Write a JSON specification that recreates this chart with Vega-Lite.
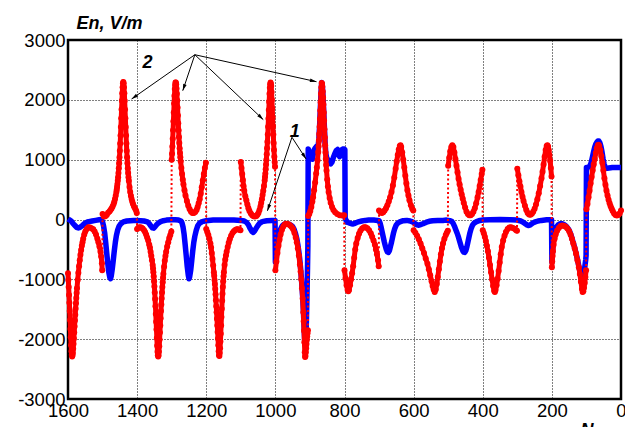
{
"$schema":"https://vega.github.io/schema/vega-lite/v6.json",
"width":553,"height":359,
"autosize":{"type":"none"},
"padding":{"left":68,"top":40,"right":4,"bottom":28},
"background":"white",
"config":{"view":{"stroke":"#000","strokeWidth":2.5},"font":"Liberation Sans",
"axis":{"labelFont":"Liberation Sans","labelFontSize":18.5,"labelColor":"#000","grid":true,"gridColor":"#000","gridDash":[1,2],"gridWidth":1,"gridOpacity":1,"domain":false,"ticks":false,"labelFlush":false,"labelOverlap":false,"titleFont":"Liberation Sans","titleFontSize":18,"titleFontWeight":"bold","titleFontStyle":"italic","titleColor":"#000","titleAngle":0,"titleAlign":"left","titleBaseline":"alphabetic"}},
"datasets":{
"red":[
{"n":1600,"e":-900,"s":1},{"n":1599,"e":-1010,"s":1},{"n":1598,"e":-1130,"s":1},{"n":1597,"e":-1260,"s":1},{"n":1596,"e":-1390,"s":1},{"n":1595,"e":-1530,"s":1},{"n":1594,"e":-1680,"s":1},{"n":1593,"e":-1830,"s":1},{"n":1592,"e":-1970,"s":1},{"n":1591,"e":-2100,"s":1},{"n":1590,"e":-2200,"s":1},{"n":1589,"e":-2260,"s":1},{"n":1588,"e":-2290,"s":1},{"n":1587,"e":-2270,"s":1},{"n":1586,"e":-2230,"s":1},{"n":1585,"e":-2160,"s":1},{"n":1584,"e":-2080,"s":1},{"n":1583,"e":-1990,"s":1},{"n":1582,"e":-1890,"s":1},{"n":1581,"e":-1790,"s":1},{"n":1580,"e":-1690,"s":1},{"n":1579,"e":-1590,"s":1},{"n":1578,"e":-1490,"s":1},{"n":1577,"e":-1400,"s":1},{"n":1576,"e":-1310,"s":1},{"n":1575,"e":-1230,"s":1},{"n":1574,"e":-1150,"s":1},{"n":1572,"e":-1010,"s":1},{"n":1570,"e":-890,"s":1},{"n":1568,"e":-780,"s":1},{"n":1566,"e":-680,"s":1},{"n":1564,"e":-590,"s":1},{"n":1562,"e":-510,"s":1},{"n":1560,"e":-440,"s":1},{"n":1558,"e":-380,"s":1},{"n":1556,"e":-320,"s":1},{"n":1553,"e":-250,"s":1},{"n":1550,"e":-200,"s":1},{"n":1546,"e":-160,"s":1},{"n":1541,"e":-130,"s":1},{"n":1536,"e":-135,"s":1},{"n":1531,"e":-150,"s":1},{"n":1527,"e":-165,"s":1},{"n":1523,"e":-200,"s":1},{"n":1519,"e":-250,"s":1},{"n":1515,"e":-320,"s":1},{"n":1512,"e":-380,"s":1},{"n":1509,"e":-450,"s":1},{"n":1506,"e":-540,"s":1},{"n":1504,"e":-620,"s":1},{"n":1502,"e":-730,"s":1},{"n":1501,"e":-850,"s":1},
{"n":1500,"e":90,"s":2},{"n":1496,"e":50,"s":2},{"n":1492,"e":55,"s":2},{"n":1488,"e":75,"s":2},{"n":1484,"e":113,"s":2},{"n":1480,"e":135,"s":2},{"n":1477,"e":158,"s":2},{"n":1474,"e":183,"s":2},{"n":1471,"e":217,"s":2},{"n":1468,"e":261,"s":2},{"n":1466,"e":298,"s":2},{"n":1464,"e":342,"s":2},{"n":1462,"e":396,"s":2},{"n":1460,"e":460,"s":2},{"n":1459,"e":499,"s":2},{"n":1458,"e":542,"s":2},{"n":1457,"e":594,"s":2},{"n":1456,"e":647,"s":2},{"n":1455,"e":708,"s":2},{"n":1454,"e":778,"s":2},{"n":1453,"e":855,"s":2},{"n":1452,"e":940,"s":2},{"n":1451,"e":1039,"s":2},{"n":1450,"e":1150,"s":2},{"n":1449,"e":1270,"s":2},{"n":1448,"e":1402,"s":2},{"n":1447,"e":1544,"s":2},{"n":1446,"e":1691,"s":2},{"n":1445,"e":1840,"s":2},{"n":1444,"e":1983,"s":2},{"n":1443,"e":2110,"s":2},{"n":1442,"e":2212,"s":2},{"n":1441,"e":2277,"s":2},{"n":1440,"e":2300,"s":2},{"n":1439,"e":2277,"s":2},{"n":1438,"e":2212,"s":2},{"n":1437,"e":2110,"s":2},{"n":1436,"e":1983,"s":2},{"n":1435,"e":1840,"s":2},{"n":1434,"e":1691,"s":2},{"n":1433,"e":1544,"s":2},{"n":1432,"e":1402,"s":2},{"n":1431,"e":1270,"s":2},{"n":1430,"e":1150,"s":2},{"n":1429,"e":1039,"s":2},{"n":1428,"e":940,"s":2},{"n":1427,"e":855,"s":2},{"n":1426,"e":778,"s":2},{"n":1425,"e":708,"s":2},{"n":1424,"e":647,"s":2},{"n":1422,"e":542,"s":2},{"n":1420,"e":460,"s":2},{"n":1418,"e":396,"s":2},{"n":1416,"e":342,"s":2},{"n":1414,"e":298,"s":2},{"n":1412,"e":261,"s":2},{"n":1409,"e":217,"s":2},{"n":1406,"e":183,"s":2},{"n":1403,"e":150,"s":2},{"n":1401,"e":110,"s":2},
{"n":1400,"e":-160,"s":3},{"n":1396,"e":-135,"s":3},{"n":1392,"e":-128,"s":3},{"n":1388,"e":-135,"s":3},{"n":1384,"e":-150,"s":3},{"n":1380,"e":-180,"s":3},{"n":1377,"e":-210,"s":3},{"n":1374,"e":-250,"s":3},{"n":1371,"e":-300,"s":3},{"n":1368,"e":-350,"s":3},{"n":1365,"e":-420,"s":3},{"n":1363,"e":-470,"s":3},{"n":1361,"e":-540,"s":3},{"n":1359,"e":-610,"s":3},{"n":1357,"e":-680,"s":3},{"n":1355,"e":-760,"s":3},{"n":1354,"e":-820,"s":3},{"n":1353,"e":-880,"s":3},{"n":1352,"e":-950,"s":3},{"n":1351,"e":-1030,"s":3},{"n":1350,"e":-1120,"s":3},{"n":1349,"e":-1220,"s":3},{"n":1348,"e":-1330,"s":3},{"n":1347,"e":-1450,"s":3},{"n":1346,"e":-1580,"s":3},{"n":1345,"e":-1710,"s":3},{"n":1344,"e":-1840,"s":3},{"n":1343,"e":-1980,"s":3},{"n":1342,"e":-2110,"s":3},{"n":1341,"e":-2210,"s":3},{"n":1340,"e":-2270,"s":3},{"n":1339,"e":-2290,"s":3},{"n":1338,"e":-2270,"s":3},{"n":1337,"e":-2210,"s":3},{"n":1336,"e":-2120,"s":3},{"n":1335,"e":-2010,"s":3},{"n":1334,"e":-1890,"s":3},{"n":1333,"e":-1770,"s":3},{"n":1332,"e":-1650,"s":3},{"n":1331,"e":-1530,"s":3},{"n":1330,"e":-1420,"s":3},{"n":1329,"e":-1320,"s":3},{"n":1328,"e":-1220,"s":3},{"n":1327,"e":-1130,"s":3},{"n":1326,"e":-1050,"s":3},{"n":1325,"e":-975,"s":3},{"n":1324,"e":-905,"s":3},{"n":1322,"e":-790,"s":3},{"n":1320,"e":-690,"s":3},{"n":1318,"e":-610,"s":3},{"n":1316,"e":-540,"s":3},{"n":1313,"e":-450,"s":3},{"n":1310,"e":-380,"s":3},{"n":1307,"e":-310,"s":3},{"n":1304,"e":-260,"s":3},{"n":1301,"e":-200,"s":3},
{"n":1300,"e":1000,"s":4},{"n":1299,"e":1100,"s":4},{"n":1298,"e":1220,"s":4},{"n":1297,"e":1350,"s":4},{"n":1296,"e":1490,"s":4},{"n":1295,"e":1640,"s":4},{"n":1294,"e":1790,"s":4},{"n":1293,"e":1940,"s":4},{"n":1292,"e":2070,"s":4},{"n":1291,"e":2180,"s":4},{"n":1290,"e":2250,"s":4},{"n":1289,"e":2290,"s":4},{"n":1288,"e":2290,"s":4},{"n":1287,"e":2260,"s":4},{"n":1286,"e":2190,"s":4},{"n":1285,"e":2100,"s":4},{"n":1284,"e":1990,"s":4},{"n":1283,"e":1870,"s":4},{"n":1282,"e":1740,"s":4},{"n":1281,"e":1610,"s":4},{"n":1280,"e":1490,"s":4},{"n":1279,"e":1380,"s":4},{"n":1278,"e":1280,"s":4},{"n":1277,"e":1190,"s":4},{"n":1276,"e":1110,"s":4},{"n":1275,"e":1040,"s":4},{"n":1274,"e":975,"s":4},{"n":1272,"e":860,"s":4},{"n":1270,"e":760,"s":4},{"n":1268,"e":670,"s":4},{"n":1266,"e":590,"s":4},{"n":1263,"e":490,"s":4},{"n":1260,"e":400,"s":4},{"n":1256,"e":310,"s":4},{"n":1252,"e":230,"s":4},{"n":1248,"e":170,"s":4},{"n":1244,"e":130,"s":4},{"n":1240,"e":110,"s":4},{"n":1236,"e":110,"s":4},{"n":1232,"e":125,"s":4},{"n":1228,"e":160,"s":4},{"n":1225,"e":210,"s":4},{"n":1222,"e":270,"s":4},{"n":1219,"e":340,"s":4},{"n":1216,"e":430,"s":4},{"n":1213,"e":540,"s":4},{"n":1210,"e":650,"s":4},{"n":1207,"e":760,"s":4},{"n":1204,"e":860,"s":4},{"n":1201,"e":950,"s":4},
{"n":1200,"e":-160,"s":5},{"n":1197,"e":-210,"s":5},{"n":1194,"e":-260,"s":5},{"n":1191,"e":-320,"s":5},{"n":1188,"e":-400,"s":5},{"n":1186,"e":-470,"s":5},{"n":1184,"e":-560,"s":5},{"n":1182,"e":-660,"s":5},{"n":1180,"e":-770,"s":5},{"n":1178,"e":-880,"s":5},{"n":1177,"e":-940,"s":5},{"n":1176,"e":-1010,"s":5},{"n":1175,"e":-1080,"s":5},{"n":1174,"e":-1160,"s":5},{"n":1173,"e":-1250,"s":5},{"n":1172,"e":-1350,"s":5},{"n":1171,"e":-1450,"s":5},{"n":1170,"e":-1550,"s":5},{"n":1169,"e":-1660,"s":5},{"n":1168,"e":-1770,"s":5},{"n":1167,"e":-1880,"s":5},{"n":1166,"e":-1990,"s":5},{"n":1165,"e":-2100,"s":5},{"n":1164,"e":-2200,"s":5},{"n":1163,"e":-2270,"s":5},{"n":1162,"e":-2280,"s":5},{"n":1161,"e":-2230,"s":5},{"n":1160,"e":-2150,"s":5},{"n":1159,"e":-2040,"s":5},{"n":1158,"e":-1910,"s":5},{"n":1157,"e":-1770,"s":5},{"n":1156,"e":-1630,"s":5},{"n":1155,"e":-1490,"s":5},{"n":1154,"e":-1360,"s":5},{"n":1153,"e":-1240,"s":5},{"n":1152,"e":-1130,"s":5},{"n":1151,"e":-1030,"s":5},{"n":1150,"e":-950,"s":5},{"n":1149,"e":-880,"s":5},{"n":1147,"e":-760,"s":5},{"n":1145,"e":-670,"s":5},{"n":1143,"e":-600,"s":5},{"n":1141,"e":-540,"s":5},{"n":1138,"e":-460,"s":5},{"n":1135,"e":-390,"s":5},{"n":1132,"e":-330,"s":5},{"n":1128,"e":-270,"s":5},{"n":1124,"e":-225,"s":5},{"n":1120,"e":-195,"s":5},{"n":1116,"e":-175,"s":5},{"n":1112,"e":-165,"s":5},{"n":1108,"e":-165,"s":5},{"n":1104,"e":-170,"s":5},{"n":1101,"e":-180,"s":5},
{"n":1100,"e":960,"s":6},{"n":1098,"e":860,"s":6},{"n":1096,"e":760,"s":6},{"n":1094,"e":660,"s":6},{"n":1092,"e":560,"s":6},{"n":1090,"e":480,"s":6},{"n":1087,"e":390,"s":6},{"n":1084,"e":320,"s":6},{"n":1081,"e":250,"s":6},{"n":1078,"e":190,"s":6},{"n":1075,"e":140,"s":6},{"n":1071,"e":100,"s":6},{"n":1067,"e":70,"s":6},{"n":1063,"e":55,"s":6},{"n":1059,"e":50,"s":6},{"n":1055,"e":60,"s":6},{"n":1052,"e":80,"s":6},{"n":1049,"e":110,"s":6},{"n":1046,"e":160,"s":6},{"n":1043,"e":220,"s":6},{"n":1041,"e":280,"s":6},{"n":1039,"e":340,"s":6},{"n":1037,"e":410,"s":6},{"n":1035,"e":480,"s":6},{"n":1033,"e":560,"s":6},{"n":1031,"e":650,"s":6},{"n":1030,"e":710,"s":6},{"n":1029,"e":770,"s":6},{"n":1028,"e":840,"s":6},{"n":1027,"e":920,"s":6},{"n":1026,"e":1000,"s":6},{"n":1025,"e":1090,"s":6},{"n":1024,"e":1190,"s":6},{"n":1023,"e":1300,"s":6},{"n":1022,"e":1420,"s":6},{"n":1021,"e":1550,"s":6},{"n":1020,"e":1690,"s":6},{"n":1019,"e":1830,"s":6},{"n":1018,"e":1970,"s":6},{"n":1017,"e":2100,"s":6},{"n":1016,"e":2200,"s":6},{"n":1015,"e":2260,"s":6},{"n":1014,"e":2290,"s":6},{"n":1013,"e":2270,"s":6},{"n":1012,"e":2230,"s":6},{"n":1011,"e":2130,"s":6},{"n":1010,"e":2000,"s":6},{"n":1009,"e":1860,"s":6},{"n":1008,"e":1710,"s":6},{"n":1007,"e":1560,"s":6},{"n":1006,"e":1420,"s":6},{"n":1005,"e":1280,"s":6},{"n":1004,"e":1160,"s":6},{"n":1003,"e":1050,"s":6},{"n":1002,"e":960,"s":6},{"n":1001,"e":880,"s":6},
{"n":1000,"e":-850,"s":7},{"n":997,"e":-700,"s":7},{"n":994,"e":-560,"s":7},{"n":991,"e":-440,"s":7},{"n":988,"e":-340,"s":7},{"n":985,"e":-250,"s":7},{"n":981,"e":-170,"s":7},{"n":977,"e":-115,"s":7},{"n":973,"e":-85,"s":7},{"n":969,"e":-72,"s":7},{"n":965,"e":-75,"s":7},{"n":961,"e":-85,"s":7},{"n":957,"e":-100,"s":7},{"n":953,"e":-125,"s":7},{"n":949,"e":-160,"s":7},{"n":945,"e":-220,"s":7},{"n":941,"e":-300,"s":7},{"n":938,"e":-380,"s":7},{"n":935,"e":-480,"s":7},{"n":932,"e":-600,"s":7},{"n":929,"e":-750,"s":7},{"n":927,"e":-870,"s":7},{"n":925,"e":-1000,"s":7},{"n":923,"e":-1150,"s":7},{"n":921,"e":-1320,"s":7},{"n":919,"e":-1550,"s":7},{"n":918,"e":-1700,"s":7},{"n":917,"e":-1860,"s":7},{"n":916,"e":-2050,"s":7},{"n":915,"e":-2220,"s":7},{"n":914,"e":-2300,"s":7},{"n":913,"e":-2280,"s":7},{"n":912,"e":-2220,"s":7},{"n":911,"e":-2150,"s":7},{"n":910,"e":-2080,"s":7},{"n":909,"e":-2010,"s":7},{"n":908,"e":-1950,"s":7},{"n":907,"e":-1900,"s":7},{"n":906,"e":-1850,"s":7},
{"n":905,"e":60,"s":8},{"n":902,"e":90,"s":8},{"n":899,"e":140,"s":8},{"n":896,"e":210,"s":8},{"n":893,"e":300,"s":8},{"n":891,"e":370,"s":8},{"n":888,"e":490,"s":8},{"n":885,"e":620,"s":8},{"n":882,"e":770,"s":8},{"n":880,"e":870,"s":8},{"n":878,"e":990,"s":8},{"n":876,"e":1130,"s":8},{"n":875,"e":1220,"s":8},{"n":874,"e":1320,"s":8},{"n":873,"e":1430,"s":8},{"n":872,"e":1550,"s":8},{"n":871,"e":1680,"s":8},{"n":870,"e":1820,"s":8},{"n":869,"e":1960,"s":8},{"n":868,"e":2100,"s":8},{"n":867,"e":2210,"s":8},{"n":866,"e":2280,"s":8},{"n":865,"e":2270,"s":8},{"n":864,"e":2220,"s":8},{"n":863,"e":2140,"s":8},{"n":862,"e":2040,"s":8},{"n":861,"e":1920,"s":8},{"n":860,"e":1790,"s":8},{"n":859,"e":1650,"s":8},{"n":858,"e":1510,"s":8},{"n":857,"e":1370,"s":8},{"n":856,"e":1240,"s":8},{"n":855,"e":1120,"s":8},{"n":854,"e":1010,"s":8},{"n":853,"e":910,"s":8},{"n":852,"e":820,"s":8},{"n":850,"e":670,"s":8},{"n":848,"e":550,"s":8},{"n":846,"e":460,"s":8},{"n":843,"e":360,"s":8},{"n":840,"e":280,"s":8},{"n":836,"e":210,"s":8},{"n":832,"e":160,"s":8},{"n":827,"e":120,"s":8},{"n":821,"e":90,"s":8},{"n":814,"e":70,"s":8},{"n":807,"e":65,"s":8},{"n":801,"e":70,"s":8},
{"n":800,"e":-850,"s":9},{"n":797,"e":-980,"s":9},{"n":794,"e":-1100,"s":9},{"n":791,"e":-1180,"s":9},{"n":789,"e":-1200,"s":9},{"n":787,"e":-1180,"s":9},{"n":784,"e":-1100,"s":9},{"n":781,"e":-1000,"s":9},{"n":778,"e":-900,"s":9},{"n":775,"e":-780,"s":9},{"n":772,"e":-640,"s":9},{"n":769,"e":-500,"s":9},{"n":766,"e":-400,"s":9},{"n":762,"e":-310,"s":9},{"n":758,"e":-240,"s":9},{"n":754,"e":-190,"s":9},{"n":749,"e":-150,"s":9},{"n":744,"e":-130,"s":9},{"n":739,"e":-130,"s":9},{"n":734,"e":-145,"s":9},{"n":729,"e":-180,"s":9},{"n":724,"e":-230,"s":9},{"n":720,"e":-290,"s":9},{"n":716,"e":-350,"s":9},{"n":712,"e":-420,"s":9},{"n":709,"e":-500,"s":9},{"n":706,"e":-580,"s":9},{"n":703,"e":-680,"s":9},{"n":701,"e":-780,"s":9},
{"n":700,"e":150,"s":10},{"n":696,"e":120,"s":10},{"n":692,"e":110,"s":10},{"n":688,"e":120,"s":10},{"n":684,"e":150,"s":10},{"n":680,"e":190,"s":10},{"n":676,"e":240,"s":10},{"n":672,"e":300,"s":10},{"n":668,"e":370,"s":10},{"n":664,"e":460,"s":10},{"n":660,"e":570,"s":10},{"n":656,"e":700,"s":10},{"n":652,"e":850,"s":10},{"n":649,"e":970,"s":10},{"n":646,"e":1080,"s":10},{"n":643,"e":1170,"s":10},{"n":640,"e":1230,"s":10},{"n":638,"e":1240,"s":10},{"n":636,"e":1210,"s":10},{"n":633,"e":1120,"s":10},{"n":630,"e":1000,"s":10},{"n":627,"e":870,"s":10},{"n":624,"e":730,"s":10},{"n":621,"e":600,"s":10},{"n":618,"e":490,"s":10},{"n":615,"e":400,"s":10},{"n":612,"e":320,"s":10},{"n":608,"e":240,"s":10},{"n":604,"e":180,"s":10},{"n":601,"e":150,"s":10},
{"n":600,"e":-180,"s":11},{"n":595,"e":-220,"s":11},{"n":590,"e":-270,"s":11},{"n":585,"e":-330,"s":11},{"n":580,"e":-400,"s":11},{"n":575,"e":-480,"s":11},{"n":570,"e":-560,"s":11},{"n":565,"e":-650,"s":11},{"n":560,"e":-740,"s":11},{"n":556,"e":-830,"s":11},{"n":552,"e":-930,"s":11},{"n":548,"e":-1030,"s":11},{"n":545,"e":-1110,"s":11},{"n":542,"e":-1170,"s":11},{"n":539,"e":-1210,"s":11},{"n":536,"e":-1170,"s":11},{"n":533,"e":-1080,"s":11},{"n":530,"e":-960,"s":11},{"n":527,"e":-830,"s":11},{"n":524,"e":-700,"s":11},{"n":521,"e":-580,"s":11},{"n":518,"e":-480,"s":11},{"n":515,"e":-400,"s":11},{"n":511,"e":-320,"s":11},{"n":507,"e":-260,"s":11},{"n":504,"e":-220,"s":11},{"n":501,"e":-190,"s":11},
{"n":500,"e":900,"s":12},{"n":497,"e":1030,"s":12},{"n":494,"e":1140,"s":12},{"n":491,"e":1210,"s":12},{"n":488,"e":1240,"s":12},{"n":485,"e":1210,"s":12},{"n":482,"e":1120,"s":12},{"n":479,"e":1010,"s":12},{"n":476,"e":900,"s":12},{"n":473,"e":790,"s":12},{"n":470,"e":680,"s":12},{"n":467,"e":590,"s":12},{"n":464,"e":500,"s":12},{"n":461,"e":420,"s":12},{"n":458,"e":350,"s":12},{"n":455,"e":280,"s":12},{"n":451,"e":200,"s":12},{"n":447,"e":130,"s":12},{"n":443,"e":90,"s":12},{"n":439,"e":70,"s":12},{"n":435,"e":70,"s":12},{"n":431,"e":90,"s":12},{"n":427,"e":130,"s":12},{"n":423,"e":190,"s":12},{"n":419,"e":270,"s":12},{"n":415,"e":370,"s":12},{"n":412,"e":460,"s":12},{"n":409,"e":560,"s":12},{"n":406,"e":660,"s":12},{"n":403,"e":760,"s":12},{"n":401,"e":830,"s":12},
{"n":400,"e":-180,"s":13},{"n":397,"e":-230,"s":13},{"n":394,"e":-290,"s":13},{"n":391,"e":-360,"s":13},{"n":388,"e":-440,"s":13},{"n":385,"e":-530,"s":13},{"n":382,"e":-640,"s":13},{"n":379,"e":-760,"s":13},{"n":376,"e":-880,"s":13},{"n":373,"e":-1000,"s":13},{"n":370,"e":-1110,"s":13},{"n":367,"e":-1190,"s":13},{"n":365,"e":-1210,"s":13},{"n":363,"e":-1180,"s":13},{"n":360,"e":-1100,"s":13},{"n":357,"e":-990,"s":13},{"n":354,"e":-860,"s":13},{"n":351,"e":-720,"s":13},{"n":348,"e":-580,"s":13},{"n":345,"e":-460,"s":13},{"n":341,"e":-350,"s":13},{"n":337,"e":-270,"s":13},{"n":333,"e":-210,"s":13},{"n":328,"e":-160,"s":13},{"n":323,"e":-135,"s":13},{"n":318,"e":-130,"s":13},{"n":313,"e":-140,"s":13},{"n":308,"e":-155,"s":13},{"n":304,"e":-175,"s":13},{"n":301,"e":-190,"s":13},
{"n":300,"e":850,"s":14},{"n":297,"e":740,"s":14},{"n":294,"e":640,"s":14},{"n":291,"e":550,"s":14},{"n":288,"e":460,"s":14},{"n":285,"e":380,"s":14},{"n":282,"e":310,"s":14},{"n":278,"e":230,"s":14},{"n":274,"e":160,"s":14},{"n":270,"e":110,"s":14},{"n":266,"e":85,"s":14},{"n":262,"e":80,"s":14},{"n":258,"e":95,"s":14},{"n":254,"e":130,"s":14},{"n":250,"e":180,"s":14},{"n":246,"e":250,"s":14},{"n":242,"e":340,"s":14},{"n":238,"e":440,"s":14},{"n":234,"e":560,"s":14},{"n":230,"e":690,"s":14},{"n":227,"e":800,"s":14},{"n":224,"e":920,"s":14},{"n":221,"e":1050,"s":14},{"n":218,"e":1160,"s":14},{"n":215,"e":1230,"s":14},{"n":213,"e":1240,"s":14},{"n":211,"e":1220,"s":14},{"n":209,"e":1160,"s":14},{"n":207,"e":1080,"s":14},{"n":205,"e":980,"s":14},{"n":203,"e":860,"s":14},{"n":201,"e":720,"s":14},
{"n":200,"e":-800,"s":15},{"n":199,"e":-700,"s":15},{"n":198,"e":-610,"s":15},{"n":197,"e":-530,"s":15},{"n":195,"e":-420,"s":15},{"n":192,"e":-320,"s":15},{"n":189,"e":-250,"s":15},{"n":185,"e":-190,"s":15},{"n":180,"e":-140,"s":15},{"n":175,"e":-110,"s":15},{"n":170,"e":-100,"s":15},{"n":165,"e":-105,"s":15},{"n":160,"e":-120,"s":15},{"n":155,"e":-150,"s":15},{"n":150,"e":-195,"s":15},{"n":146,"e":-250,"s":15},{"n":142,"e":-320,"s":15},{"n":138,"e":-400,"s":15},{"n":134,"e":-480,"s":15},{"n":130,"e":-570,"s":15},{"n":126,"e":-680,"s":15},{"n":122,"e":-800,"s":15},{"n":119,"e":-910,"s":15},{"n":116,"e":-1040,"s":15},{"n":113,"e":-1160,"s":15},{"n":111,"e":-1210,"s":15},{"n":109,"e":-1200,"s":15},{"n":107,"e":-1140,"s":15},{"n":105,"e":-1060,"s":15},{"n":103,"e":-960,"s":15},{"n":101,"e":-850,"s":15},
{"n":100,"e":170,"s":16},{"n":97,"e":260,"s":16},{"n":94,"e":370,"s":16},{"n":91,"e":480,"s":16},{"n":88,"e":600,"s":16},{"n":85,"e":710,"s":16},{"n":82,"e":820,"s":16},{"n":79,"e":920,"s":16},{"n":76,"e":1010,"s":16},{"n":73,"e":1110,"s":16},{"n":70,"e":1190,"s":16},{"n":67,"e":1240,"s":16},{"n":65,"e":1250,"s":16},{"n":63,"e":1230,"s":16},{"n":60,"e":1160,"s":16},{"n":57,"e":1060,"s":16},{"n":54,"e":950,"s":16},{"n":51,"e":820,"s":16},{"n":48,"e":690,"s":16},{"n":45,"e":580,"s":16},{"n":42,"e":480,"s":16},{"n":39,"e":400,"s":16},{"n":36,"e":330,"s":16},{"n":33,"e":270,"s":16},{"n":30,"e":220,"s":16},{"n":27,"e":180,"s":16},{"n":24,"e":140,"s":16},{"n":20,"e":100,"s":16},{"n":16,"e":75,"s":16},{"n":12,"e":65,"s":16},{"n":8,"e":75,"s":16},{"n":4,"e":100,"s":16},{"n":0,"e":150,"s":16}
],
"blue":[
{"n":1600,"e":10},{"n":1595,"e":-10},{"n":1590,"e":-30},{"n":1585,"e":-70},{"n":1580,"e":-100},{"n":1575,"e":-130},{"n":1570,"e":-140},{"n":1565,"e":-130},{"n":1560,"e":-110},{"n":1555,"e":-80},{"n":1550,"e":-60},{"n":1545,"e":-45},{"n":1540,"e":-35},{"n":1530,"e":-25},{"n":1520,"e":-15},{"n":1510,"e":-5},{"n":1503,"e":0},{"n":1500,"e":-40},{"n":1497,"e":-110},{"n":1494,"e":-220},{"n":1491,"e":-380},{"n":1488,"e":-560},{"n":1485,"e":-730},{"n":1482,"e":-880},{"n":1479,"e":-970},{"n":1477,"e":-990},{"n":1475,"e":-950},{"n":1472,"e":-830},{"n":1469,"e":-680},{"n":1466,"e":-520},{"n":1463,"e":-380},{"n":1460,"e":-270},{"n":1456,"e":-170},{"n":1452,"e":-110},{"n":1447,"e":-70},{"n":1440,"e":-40},{"n":1430,"e":-25},{"n":1420,"e":-20},{"n":1410,"e":-15},{"n":1400,"e":-15},{"n":1390,"e":-20},{"n":1380,"e":-25},{"n":1370,"e":-40},{"n":1365,"e":-70},{"n":1360,"e":-110},{"n":1356,"e":-140},{"n":1352,"e":-145},{"n":1348,"e":-120},{"n":1344,"e":-90},{"n":1339,"e":-60},{"n":1332,"e":-35},{"n":1324,"e":-20},{"n":1315,"e":-10},{"n":1300,"e":-5},{"n":1290,"e":-5},{"n":1280,"e":-10},{"n":1273,"e":-25},{"n":1270,"e":-60},{"n":1267,"e":-130},{"n":1264,"e":-250},{"n":1261,"e":-420},{"n":1258,"e":-600},{"n":1255,"e":-790},{"n":1252,"e":-930},{"n":1250,"e":-990},{"n":1248,"e":-960},{"n":1245,"e":-850},{"n":1242,"e":-690},{"n":1239,"e":-520},{"n":1236,"e":-380},{"n":1233,"e":-280},{"n":1229,"e":-180},{"n":1225,"e":-110},{"n":1220,"e":-65},{"n":1212,"e":-35},{"n":1200,"e":-20},{"n":1180,"e":-10},{"n":1150,"e":-8},{"n":1120,"e":-10},{"n":1100,"e":-15},{"n":1090,"e":-25},{"n":1083,"e":-50},{"n":1078,"e":-90},{"n":1073,"e":-150},{"n":1068,"e":-200},{"n":1064,"e":-215},{"n":1060,"e":-190},{"n":1055,"e":-140},{"n":1050,"e":-95},{"n":1045,"e":-60},{"n":1038,"e":-35},{"n":1025,"e":-20},{"n":1010,"e":-15},{"n":1001,"e":-15},
{"n":1000,"e":-712},{"n":997,"e":-540},{"n":994,"e":-400},{"n":991,"e":-300},{"n":988,"e":-220},{"n":984,"e":-150},{"n":980,"e":-105},{"n":975,"e":-80},{"n":970,"e":-70},{"n":965,"e":-72},{"n":960,"e":-80},{"n":955,"e":-95},{"n":950,"e":-120},{"n":946,"e":-160},{"n":942,"e":-230},{"n":938,"e":-320},{"n":935,"e":-420},{"n":932,"e":-540},{"n":929,"e":-690},{"n":927,"e":-820},{"n":925,"e":-960},{"n":923,"e":-1120},{"n":921,"e":-1300},{"n":919,"e":-1520},{"n":917,"e":-1780},{"n":916,"e":-1920},{"n":915,"e":-2050},{"n":914,"e":-2100},{"n":913,"e":-2090},{"n":912,"e":-2000},{"n":911,"e":-1850},{"n":910,"e":-1650},{"n":909,"e":-1400},{"n":908,"e":-1100},{"n":907,"e":-800},{"n":906,"e":-450},
{"n":905,"e":1180},{"n":902,"e":1140},{"n":899,"e":1080},{"n":896,"e":1020},{"n":893,"e":1010},{"n":890,"e":1100},{"n":887,"e":1170},{"n":884,"e":1200},{"n":881,"e":1220},{"n":878,"e":1230},{"n":876,"e":1250},{"n":874,"e":1350},{"n":872,"e":1570},{"n":870,"e":1840},{"n":868,"e":2120},{"n":866,"e":2290},{"n":864,"e":2230},{"n":862,"e":2050},{"n":860,"e":1800},{"n":858,"e":1520},{"n":856,"e":1260},{"n":854,"e":1100},{"n":851,"e":1020},{"n":848,"e":1000},{"n":844,"e":950},{"n":840,"e":930},{"n":836,"e":960},{"n":832,"e":1040},{"n":828,"e":1100},{"n":824,"e":1150},{"n":820,"e":1170},{"n":817,"e":1080},{"n":814,"e":1050},{"n":811,"e":1120},{"n":807,"e":1170},{"n":803,"e":1180},{"n":799,"e":1170},
{"n":798,"e":20},{"n":795,"e":-20},{"n":790,"e":-50},{"n":785,"e":-60},{"n":780,"e":-70},{"n":775,"e":-75},{"n":770,"e":-65},{"n":765,"e":-50},{"n":760,"e":-40},{"n":750,"e":-25},{"n":740,"e":-15},{"n":730,"e":-10},{"n":715,"e":-10},{"n":705,"e":-15},{"n":700,"e":-20},{"n":697,"e":-60},{"n":694,"e":-130},{"n":691,"e":-210},{"n":688,"e":-290},{"n":685,"e":-370},{"n":682,"e":-440},{"n":679,"e":-500},{"n":676,"e":-540},{"n":673,"e":-550},{"n":670,"e":-520},{"n":667,"e":-450},{"n":664,"e":-380},{"n":661,"e":-300},{"n":658,"e":-220},{"n":655,"e":-160},{"n":651,"e":-100},{"n":646,"e":-60},{"n":640,"e":-40},{"n":630,"e":-20},{"n":620,"e":-15},{"n":610,"e":-25},{"n":605,"e":-35},{"n":600,"e":-50},{"n":595,"e":-70},{"n":590,"e":-90},{"n":585,"e":-95},{"n":580,"e":-85},{"n":575,"e":-75},{"n":570,"e":-65},{"n":563,"e":-45},{"n":555,"e":-30},{"n":545,"e":-20},{"n":530,"e":-15},{"n":515,"e":-15},{"n":505,"e":-10},{"n":500,"e":-15},{"n":495,"e":-20},{"n":490,"e":-30},{"n":486,"e":-60},{"n":482,"e":-110},{"n":478,"e":-170},{"n":474,"e":-230},{"n":470,"e":-300},{"n":466,"e":-380},{"n":462,"e":-460},{"n":458,"e":-520},{"n":455,"e":-545},{"n":452,"e":-550},{"n":449,"e":-520},{"n":446,"e":-460},{"n":443,"e":-380},{"n":440,"e":-300},{"n":437,"e":-220},{"n":434,"e":-160},{"n":430,"e":-100},{"n":425,"e":-60},{"n":418,"e":-35},{"n":408,"e":-15},{"n":400,"e":-10},{"n":380,"e":-5},{"n":350,"e":0},{"n":320,"e":-5},{"n":300,"e":-10},{"n":290,"e":-25},{"n":283,"e":-45},{"n":277,"e":-70},{"n":272,"e":-90},{"n":268,"e":-100},{"n":264,"e":-95},{"n":259,"e":-75},{"n":254,"e":-55},{"n":248,"e":-40},{"n":240,"e":-25},{"n":230,"e":-15},{"n":215,"e":-5},{"n":201,"e":-5},
{"n":200,"e":-710},{"n":198,"e":-520},{"n":196,"e":-380},{"n":193,"e":-260},{"n":190,"e":-180},{"n":186,"e":-120},{"n":181,"e":-85},{"n":176,"e":-70},{"n":171,"e":-70},{"n":166,"e":-80},{"n":161,"e":-100},{"n":156,"e":-130},{"n":151,"e":-170},{"n":147,"e":-220},{"n":143,"e":-290},{"n":139,"e":-370},{"n":135,"e":-450},{"n":131,"e":-540},{"n":127,"e":-640},{"n":123,"e":-750},{"n":120,"e":-840},{"n":117,"e":-930},{"n":114,"e":-990},{"n":112,"e":-1010},{"n":110,"e":-990},{"n":108,"e":-930},{"n":106,"e":-850},{"n":104,"e":-760},{"n":102,"e":-670},{"n":101,"e":-600},
{"n":100,"e":870},{"n":96,"e":870},{"n":92,"e":880},{"n":88,"e":920},{"n":85,"e":980},{"n":82,"e":1060},{"n":79,"e":1140},{"n":76,"e":1210},{"n":73,"e":1260},{"n":70,"e":1290},{"n":67,"e":1310},{"n":64,"e":1310},{"n":61,"e":1280},{"n":58,"e":1220},{"n":55,"e":1130},{"n":52,"e":1020},{"n":49,"e":930},{"n":46,"e":880},{"n":43,"e":860},{"n":40,"e":855},{"n":35,"e":860},{"n":30,"e":865},{"n":25,"e":870},{"n":20,"e":870},{"n":10,"e":870},{"n":0,"e":870}
],
"arrows":[
{"x1":1233,"y1":2754,"x2":1416,"y2":2014,"a":235},
{"x1":1233,"y1":2754,"x2":1268,"y2":2153,"a":199},
{"x1":1233,"y1":2754,"x2":1035,"y2":1669,"a":134},
{"x1":1233,"y1":2754,"x2":881,"y2":2303,"a":102.5},
{"x1":952,"y1":1374,"x2":911,"y2":1010,"a":147},
{"x1":952,"y1":1374,"x2":1023,"y2":145,"a":198.5}
],
"labels":[
{"n":1370,"e":2612,"t":"2"},
{"n":944,"e":1469,"t":"1"}
]
},
"layer":[
{"data":{"name":"blue"},
"mark":{"type":"line","color":"#0000ff","strokeWidth":5.5,"strokeJoin":"round"},
"encoding":{
"x":{"field":"n","type":"quantitative","scale":{"domain":[0,1600],"reverse":true,"nice":false,"zero":false},"title":"N","axis":{"values":[0,200,400,600,800,1000,1200,1400,1600],"labelExpr":"'' + datum.value","labelPadding":2,"titleX":512,"titleY":36}},
"y":{"field":"e","type":"quantitative","scale":{"domain":[-3000,3000],"nice":false,"zero":false},"title":"En, V/m","axis":{"values":[-3000,-2000,-1000,0,1000,2000,3000],"labelExpr":"'' + datum.value","labelPadding":3,"titleX":8,"titleY":-12}}
}},
{"data":{"name":"red"},
"mark":{"type":"line","color":"#ff0000","strokeWidth":2,"strokeDash":[2,2.5]},
"encoding":{"x":{"field":"n","type":"quantitative","title":"N"},"y":{"field":"e","type":"quantitative","title":"En, V/m"}}},
{"data":{"name":"red"},
"mark":{"type":"line","color":"#ff0000","strokeWidth":5,"strokeJoin":"round","strokeCap":"round"},
"encoding":{"x":{"field":"n","type":"quantitative","title":"N"},"y":{"field":"e","type":"quantitative","title":"En, V/m"},"detail":{"field":"s","type":"nominal"}}},
{"data":{"name":"red"},
"mark":{"type":"point","filled":true,"color":"#ff0000","size":36,"opacity":1,"strokeWidth":0},
"encoding":{"x":{"field":"n","type":"quantitative","title":"N"},"y":{"field":"e","type":"quantitative","title":"En, V/m"}}},
{"data":{"name":"arrows"},
"mark":{"type":"rule","color":"#000","strokeWidth":1},
"encoding":{"x":{"field":"x1","type":"quantitative","title":"N"},"y":{"field":"y1","type":"quantitative","title":"En, V/m"},"x2":{"field":"x2"},"y2":{"field":"y2"}}},
{"data":{"name":"arrows"},
"mark":{"type":"point","shape":"M0,0L0.6,2.2L-0.6,2.2Z","filled":true,"color":"#000","size":36,"opacity":1,"strokeWidth":0},
"encoding":{"x":{"field":"x2","type":"quantitative","title":"N"},"y":{"field":"y2","type":"quantitative","title":"En, V/m"},"angle":{"field":"a","type":"quantitative","scale":null}}},
{"data":{"name":"labels"},
"mark":{"type":"text","font":"Liberation Sans","fontSize":18,"fontWeight":"bold","fontStyle":"italic","color":"#000","align":"center","baseline":"middle"},
"encoding":{"x":{"field":"n","type":"quantitative","title":"N"},"y":{"field":"e","type":"quantitative","title":"En, V/m"},"text":{"field":"t"}}}
]
}
